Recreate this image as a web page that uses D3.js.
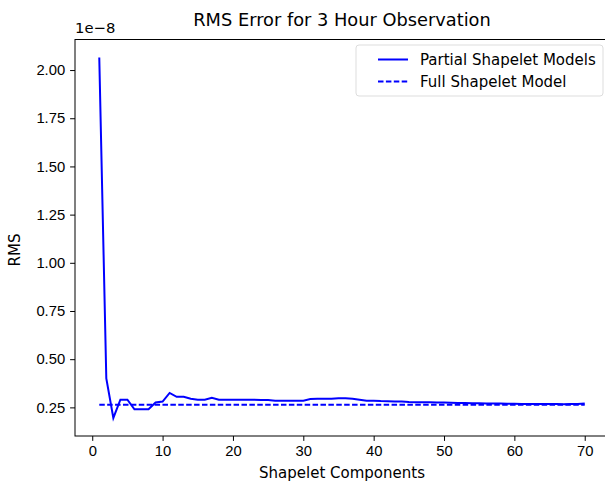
<!DOCTYPE html>
<html>
<head>
<meta charset="utf-8">
<script src="https://cdn.jsdelivr.net/npm/d3@7"></script>
<style>
  body { margin: 0; background: #fff; }
  svg { font-family: "DejaVu Sans", sans-serif; }
  .tick text { font-size: 14.8px; fill: #000; }
  .tick line { stroke: #000; }
  .domain { stroke: none; }
</style>
</head>
<body>
<div id="chart"></div>
<script>
// shapelet component counts
const components = d3.range(1, 71);
// RMS of partial shapelet models (units of 1e-8)
const partialRms = [
  2.065, 0.40, 0.195, 0.29, 0.29, 0.24, 0.24, 0.24, 0.275, 0.28,
  0.325, 0.305, 0.305, 0.295, 0.29, 0.29, 0.30, 0.29, 0.29, 0.29,
  0.29, 0.29, 0.29, 0.288, 0.288, 0.285, 0.285, 0.285, 0.285, 0.285,
  0.293, 0.295, 0.295, 0.295, 0.297, 0.297, 0.295, 0.29, 0.285, 0.285,
  0.283, 0.282, 0.28, 0.28, 0.278, 0.277, 0.277, 0.276, 0.275, 0.275,
  0.274, 0.273, 0.273, 0.272, 0.271, 0.27, 0.27, 0.27, 0.269, 0.269,
  0.268, 0.268, 0.267, 0.267, 0.267, 0.267, 0.266, 0.267, 0.268, 0.27
];
// RMS of full shapelet model (flat)
const fullRms = 0.264;
const xTicks = [0, 10, 20, 30, 40, 50, 60, 70];
const yTicks = [0.25, 0.5, 0.75, 1.0, 1.25, 1.5, 1.75, 2.0];

const width = 605, height = 485;
const margin = { top: 39.5, right: -4, bottom: 49, left: 75 };

const svg = d3.select("#chart").append("svg")
  .attr("width", width)
  .attr("height", height);

// matplotlib-style 5% padding
const xMin = d3.min(components), xMax = d3.max(components);
const xPad = (xMax - xMin) * 0.05;
const x = d3.scaleLinear()
  .domain([xMin - xPad, xMax + xPad])
  .range([margin.left, width - margin.right]);

const yLo = d3.min(partialRms), yHi = d3.max(partialRms);
const yPad = (yHi - yLo) * 0.05;
const y = d3.scaleLinear()
  .domain([yLo - yPad, yHi + yPad])
  .range([height - margin.bottom, margin.top]);

// axes
svg.append("g")
  .attr("transform", `translate(0,${height - margin.bottom})`)
  .call(d3.axisBottom(x).tickValues(xTicks).tickSize(4.9).tickPadding(4.5).tickFormat(d3.format("d")));

svg.append("g")
  .attr("transform", `translate(${margin.left},0)`)
  .call(d3.axisLeft(y).tickValues(yTicks).tickSize(4.9).tickPadding(4.9).tickFormat(d3.format(".2f")));

// spines
svg.append("rect")
  .attr("x", margin.left)
  .attr("y", margin.top)
  .attr("width", width - margin.right - margin.left)
  .attr("height", height - margin.bottom - margin.top)
  .attr("fill", "none")
  .attr("stroke", "#000")
  .attr("stroke-width", 1);

// lines
const line = d3.line()
  .x((d, i) => x(components[i]))
  .y(d => y(d));

svg.append("path")
  .datum(partialRms)
  .attr("d", line)
  .attr("fill", "none")
  .attr("stroke", "#0000ff")
  .attr("stroke-width", 2);

svg.append("path")
  .datum(components.map(() => fullRms))
  .attr("d", line)
  .attr("fill", "none")
  .attr("stroke", "#0000ff")
  .attr("stroke-width", 2)
  .attr("stroke-dasharray", "5.5,2.4");

// texts
svg.append("text")
  .attr("x", (margin.left + width - margin.right) / 2)
  .attr("y", 26)
  .attr("text-anchor", "middle")
  .style("font-size", "17.8px")
  .text("RMS Error for 3 Hour Observation");

svg.append("text")
  .attr("x", margin.left)
  .attr("y", 33)
  .style("font-size", "14.8px")
  .text("1e\u22128");

svg.append("text")
  .attr("x", (margin.left + width - margin.right) / 2)
  .attr("y", 478)
  .attr("text-anchor", "middle")
  .style("font-size", "15px")
  .text("Shapelet Components");

svg.append("text")
  .attr("transform", "translate(20,250) rotate(-90)")
  .attr("text-anchor", "middle")
  .style("font-size", "15px")
  .text("RMS");

// legend
const legend = svg.append("g").attr("transform", "translate(356,45)");
legend.append("rect")
  .attr("width", 247).attr("height", 51).attr("rx", 3)
  .attr("fill", "#fff").attr("fill-opacity", 0.8)
  .attr("stroke", "#ddd");
const items = [
  { label: "Partial Shapelet Models", dash: null },
  { label: "Full Shapelet Model", dash: "5.5,2.4" }
];
items.forEach((it, i) => {
  const yy = 14.5 + i * 22;
  legend.append("line")
    .attr("x1", 22).attr("x2", 52).attr("y1", yy).attr("y2", yy)
    .attr("stroke", "#0000ff").attr("stroke-width", 2)
    .attr("stroke-dasharray", it.dash);
  legend.append("text")
    .attr("x", 64).attr("y", yy + 5.5)
    .style("font-size", "15px")
    .text(it.label);
});
</script>
</body>
</html>
